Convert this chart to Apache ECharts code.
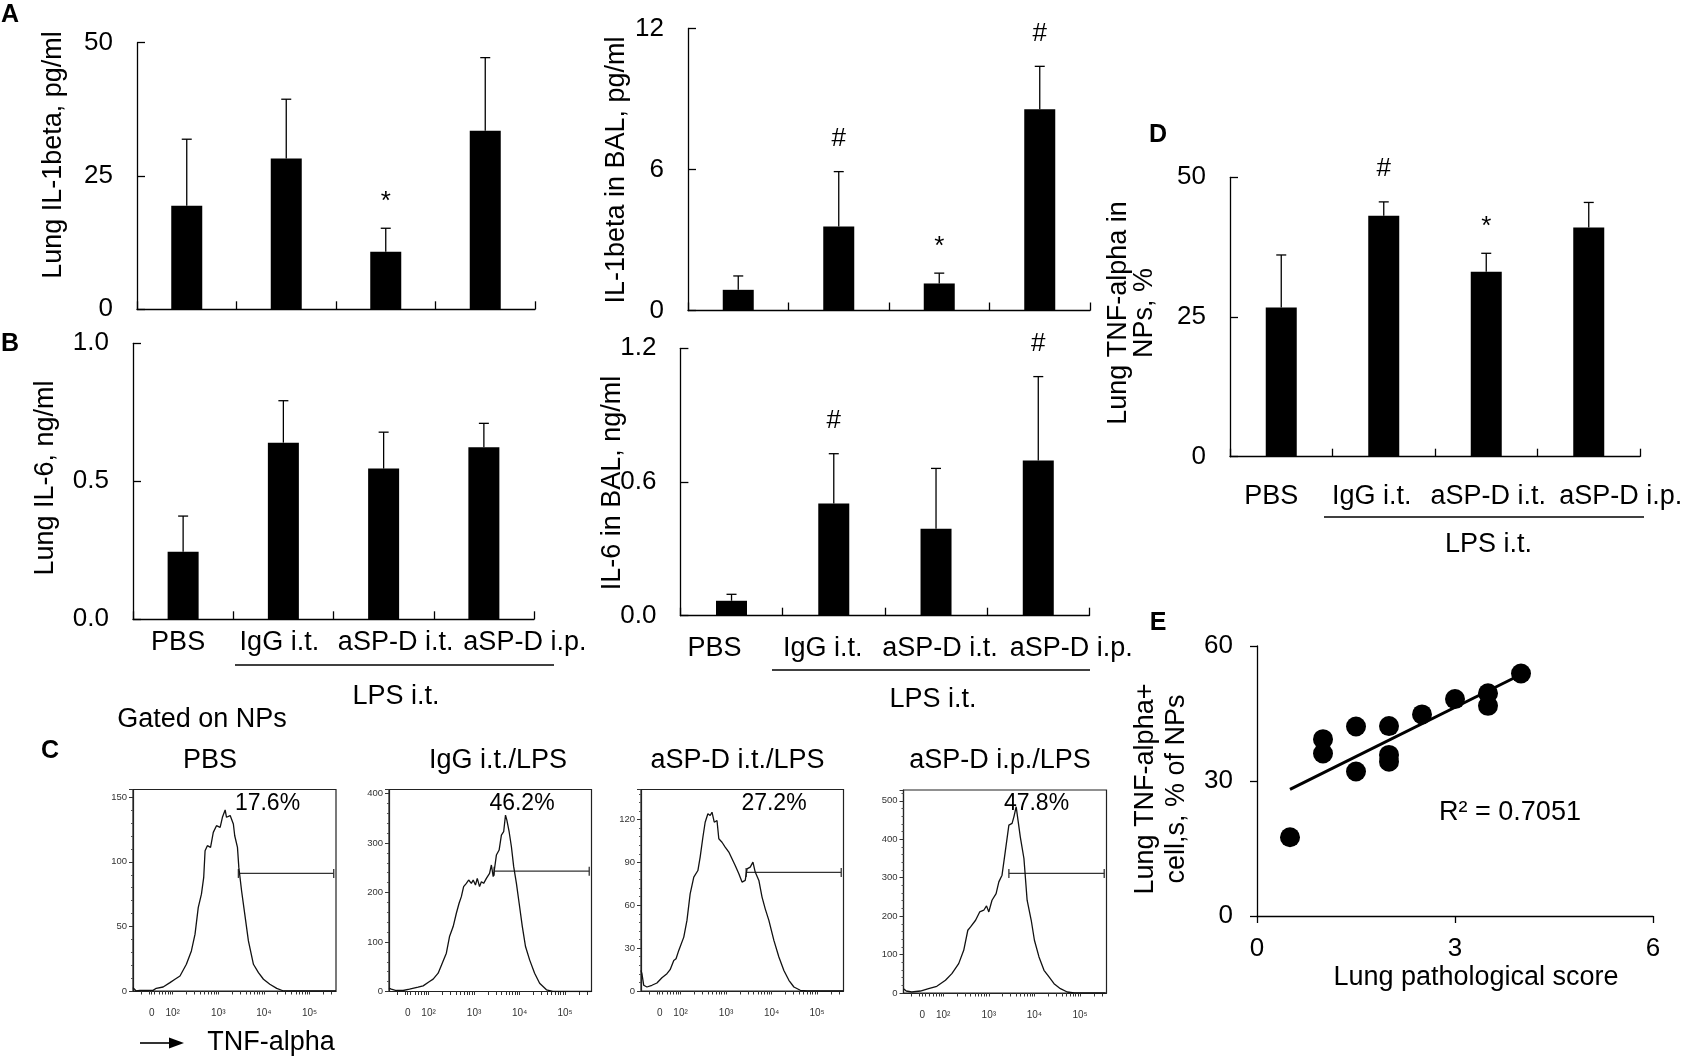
<!DOCTYPE html>
<html>
<head>
<meta charset="utf-8">
<script src="https://cdn.jsdelivr.net/npm/echarts@6/dist/echarts.min.js"></script>
<style>
  html, body { margin: 0; padding: 0; background: #fff; }
  #fig { width: 1686px; height: 1060px; }
</style>
</head>
<body>
<div id="fig"></div>
<script>
// --- data ---
var groups = ['PBS', 'IgG i.t.', 'aSP-D i.t.', 'aSP-D i.p.'];

var lungIL1b = [19.4, 28.3, 10.8, 33.5];
var lungIL1bSd = [12.5, 11.1, 4.4, 13.7];
var lungIL1bSig = ['', '', '*', ''];

var balIL1b = [0.88, 3.57, 1.15, 8.56];
var balIL1bSd = [0.59, 2.34, 0.44, 1.83];
var balIL1bSig = ['', '#', '*', '#'];

var lungIL6 = [0.245, 0.64, 0.546, 0.623];
var lungIL6Sd = [0.129, 0.152, 0.132, 0.087];
var lungIL6Sig = ['', '', '', ''];

var balIL6 = [0.067, 0.504, 0.39, 0.696];
var balIL6Sd = [0.029, 0.223, 0.271, 0.377];
var balIL6Sig = ['', '#', '', '#'];

var tnfNP = [26.7, 43.1, 33.1, 41.0];
var tnfNPSd = [9.4, 2.5, 3.3, 4.5];
var tnfNPSig = ['', '#', '*', ''];

var pathScore = [0.5, 1, 1, 1.5, 1.5, 2, 2, 2, 2.5, 3, 3.5, 3.5, 4];
var tnfPlusNP = [17.5, 39.3, 36.1, 42.1, 32.1, 42.2, 35.8, 34.3, 44.8, 48.2, 49.5, 46.7, 53.9];
var r2Label = 'R\u00b2 = 0.7051';

// flow histograms: [x in decades, count]
var histTitles = ['PBS', 'IgG i.t./LPS', 'aSP-D i.t./LPS', 'aSP-D i.p./LPS'];
var histPct = ['17.6%', '46.2%', '27.2%', '47.8%'];
var histYMax = [156, 408, 141, 528];
var histYStep = [50, 100, 30, 100];
var gateLevel = [91, 243, 83, 311];
var gateRange = [3.44, 5.53];
var decadeTicks = [1.54, 2, 3, 4, 5];
var decadeLabels = ['0', '10\u00b2', '10\u00b3', '10\u2074', '10\u2075'];

var histPbs = [[1.13,2.6],[1.20,0],[1.28,0.5],[1.57,0.5],[1.64,2.1],[1.79,3.1],[1.94,6.5],[2.05,9.1],[2.16,11.6],
  [2.30,20.7],[2.41,31],[2.49,44],[2.56,64.6],[2.63,75],[2.68,87.9],[2.71,108.6],[2.76,112.5],[2.79,113.8],
  [2.83,111.2],[2.89,122.8],[2.96,128],[3.04,126.7],[3.09,134.5],[3.15,140.2],[3.18,134.5],[3.26,135.8],
  [3.33,129.3],[3.36,120.2],[3.42,111.2],[3.45,95.7],[3.51,77.6],[3.58,59.5],[3.66,38.8],[3.77,20.7],
  [3.88,14.2],[3.99,9.1],[4.13,5.2],[4.28,2],[4.43,0],[5.58,0]];
var histIgG = [[1.13,6.7],[1.18,4.7],[1.29,2],[1.44,2],[1.58,4.7],[1.77,8.7],[1.88,11.4],[2.02,20.2],[2.10,24.9],
  [2.21,37],[2.30,57.1],[2.39,77.3],[2.46,110.9],[2.54,131.1],[2.61,158],[2.67,178.2],[2.72,191.6],[2.77,211.8],
  [2.83,218.5],[2.88,225.2],[2.94,218.5],[2.98,225.2],[3.03,215.1],[3.07,228.6],[3.12,211.8],[3.16,221.8],
  [3.21,218.5],[3.27,228.6],[3.34,238.7],[3.38,255.5],[3.42,231.9],[3.44,242],[3.49,275.6],[3.55,285.7],
  [3.60,316],[3.65,322.7],[3.69,356.3],[3.72,346.2],[3.77,322.7],[3.82,292.4],[3.87,252.1],[3.93,218.5],
  [3.99,178.2],[4.06,131.1],[4.13,90.8],[4.22,63.9],[4.33,37],[4.44,16.8],[4.59,3.4],[4.73,0],[5.58,0]];
var histAspdIt = [[1.13,14.4],[1.15,12.1],[1.19,4],[1.26,2.8],[1.37,4],[1.48,5.6],[1.59,9.3],[1.70,12.1],[1.77,14.9],
  [1.85,21.4],[1.90,22.6],[1.96,28.4],[2.07,37.7],[2.14,49.4],[2.21,68],[2.29,79.7],[2.38,84.3],[2.43,93.7],
  [2.49,107.6],[2.54,118.1],[2.60,124],[2.65,122.8],[2.69,125.1],[2.74,118.1],[2.80,119.3],[2.84,106.5],
  [2.91,104.1],[2.98,100.7],[3.06,97.2],[3.13,92.5],[3.20,87.8],[3.28,82],[3.35,76.2],[3.42,77.4],[3.46,85.5],
  [3.53,86.7],[3.59,90.2],[3.64,83.2],[3.72,77.4],[3.79,65.7],[3.86,57.5],[3.94,49.4],[4.05,35.4],[4.16,23.8],
  [4.27,14.4],[4.38,7.5],[4.49,2.8],[4.63,0.5],[4.78,0],[5.58,0]];
var histAspdIp = [[1.13,11.3],[1.19,5.2],[1.31,2.6],[1.50,5.2],[1.68,11.3],[1.86,17.4],[2.05,33],[2.19,50.3],
  [2.34,76.4],[2.45,111.1],[2.54,163.2],[2.60,171.9],[2.71,189.2],[2.80,210.9],[2.89,215.3],[2.95,226.6],
  [3.00,210.9],[3.07,241.3],[3.16,258.7],[3.22,289],[3.29,306.4],[3.36,367.2],[3.44,436.6],[3.51,441],
  [3.55,458.3],[3.60,484.4],[3.64,449.7],[3.69,406.3],[3.77,349.8],[3.84,241.3],[3.93,189.2],[4.00,137.2],
  [4.10,93.8],[4.21,59],[4.32,41.7],[4.43,24.3],[4.57,11.3],[4.72,2.6],[4.87,0],[5.56,0]];
var histSets = [histPbs, histIgG, histAspdIt, histAspdIp];

(function() {
  var FONT = "'Liberation Sans', Arial, Helvetica, sans-serif";
  var INK = '#000';
  var chart = echarts.init(document.getElementById('fig'), null, { renderer: 'canvas' });

  var grids = [], xAxes = [], yAxes = [], series = [], elements = [];

  function txt(s, x, y, size, opt) {
    opt = opt || {};
    return {
      type: 'text', x: x, y: y, rotation: opt.rot || 0, silent: true,
      style: {
        text: s, fill: opt.color || INK, fontSize: size, fontFamily: FONT,
        fontWeight: opt.bold ? 'bold' : 'normal', align: 'center', verticalAlign: 'middle',
        lineHeight: opt.lh || size
      }
    };
  }
  function hline(x1, x2, y) {
    return { type: 'line', silent: true, shape: { x1: x1, y1: y, x2: x2, y2: y }, style: { stroke: INK, lineWidth: 1.3 } };
  }

  // --- bar panels (A, B, D) ---
  var barPanels = [
    { mean: lungIL1b, sd: lungIL1bSd, sig: lungIL1bSig, max: 50, step: 25, dec: 0,
      box: { left: 137, top: 42.7, width: 398, height: 266.6 } },
    { mean: balIL1b, sd: balIL1bSd, sig: balIL1bSig, max: 12, step: 6, dec: 0,
      box: { left: 688, top: 28.5, width: 402, height: 282 } },
    { mean: lungIL6, sd: lungIL6Sd, sig: lungIL6Sig, max: 1.0, step: 0.5, dec: 1,
      box: { left: 133, top: 343.3, width: 401, height: 276 }, dx: [-5, -4, 12, 41], margin: 10 },
    { mean: balIL6, sd: balIL6Sd, sig: balIL6Sig, max: 1.2, step: 0.6, dec: 1,
      box: { left: 680.4, top: 348.3, width: 409, height: 267.4 }, dx: [-17, -11, 4, 33], margin: 19 },
    { mean: tnfNP, sd: tnfNPSd, sig: tnfNPSig, max: 50, step: 25, dec: 0,
      box: { left: 1230, top: 177.3, width: 410, height: 279.4 }, dx: [-10, -12, 2, 32], margin: 26 }
  ];

  function errRenderer(sig) {
    return function(params, api) {
      var k = api.value(0), m = api.value(1), s = api.value(2);
      var base = api.coord([k, m]);
      var tip = api.coord([k, m + s]);
      var kids = [
        { type: 'line', shape: { x1: base[0], y1: base[1], x2: tip[0], y2: tip[1] }, style: { stroke: INK, lineWidth: 1.3 } },
        { type: 'line', shape: { x1: tip[0] - 5, y1: tip[1], x2: tip[0] + 5, y2: tip[1] }, style: { stroke: INK, lineWidth: 1.3 } }
      ];
      var mark = sig[params.dataIndex];
      if (mark) {
        kids.push({
          type: 'text', x: tip[0], y: tip[1] - (mark === '*' ? 26 : 33),
          style: { text: mark, fill: INK, fontSize: 26, fontFamily: FONT, align: 'center', verticalAlign: 'middle' }
        });
      }
      return { type: 'group', children: kids };
    };
  }

  barPanels.forEach(function(p) {
    var gi = grids.length;
    grids.push(p.box);
    var labelOpt = { show: false };
    if (p.dx) {
      var rich = {};
      p.dx.forEach(function(d, k) {
        rich['c' + k] = { fontSize: 27, fontFamily: FONT, color: INK,
          padding: d >= 0 ? [0, 0, 0, 2 * d] : [0, -2 * d, 0, 0] };
      });
      labelOpt = {
        show: true, interval: 0, margin: p.margin, rich: rich,
        formatter: function(v, k) { return '{c' + k + '|' + v + '}'; }
      };
    }
    xAxes.push({
      type: 'category', gridIndex: gi, data: groups,
      axisLine: { lineStyle: { color: INK, width: 1.3 } },
      axisTick: { show: true, inside: true, length: 8, lineStyle: { color: INK, width: 1.3 } },
      axisLabel: labelOpt,
      splitLine: { show: false }
    });
    yAxes.push({
      type: 'value', gridIndex: gi, min: 0, max: p.max, interval: p.step,
      axisLine: { show: true, lineStyle: { color: INK, width: 1.3 } },
      axisTick: { show: true, inside: true, length: 8, lineStyle: { color: INK, width: 1.3 } },
      axisLabel: { fontSize: 26, fontFamily: FONT, color: INK, margin: 24,
        formatter: function(v) { return v.toFixed(p.dec); } },
      splitLine: { show: false }
    });
    series.push({
      type: 'bar', xAxisIndex: gi, yAxisIndex: gi, data: p.mean, barWidth: 31,
      itemStyle: { color: INK }, silent: true, z: 2
    });
    series.push({
      type: 'custom', xAxisIndex: gi, yAxisIndex: gi, silent: true, z: 3,
      data: p.mean.map(function(m, k) { return [k, m, p.sd[k]]; }),
      renderItem: errRenderer(p.sig)
    });
  });

  // --- E: scatter with linear fit ---
  var ge = grids.length;
  grids.push({ left: 1257, top: 646, width: 396, height: 270 });
  xAxes.push({
    type: 'value', gridIndex: ge, min: 0, max: 6, interval: 3,
    axisLine: { lineStyle: { color: INK, width: 1.3 } },
    axisTick: { show: true, length: 7, lineStyle: { color: INK, width: 1.3 } },
    axisLabel: { fontSize: 26, fontFamily: FONT, color: INK, margin: 20 },
    splitLine: { show: false }
  });
  yAxes.push({
    type: 'value', gridIndex: ge, min: 0, max: 60, interval: 30,
    axisLine: { show: true, lineStyle: { color: INK, width: 1.3 } },
    axisTick: { show: true, length: 7, lineStyle: { color: INK, width: 1.3 } },
    axisLabel: { fontSize: 26, fontFamily: FONT, color: INK, margin: 24 },
    splitLine: { show: false }
  });
  var pts = pathScore.map(function(x, i) { return [x, tnfPlusNP[i]]; });
  var n = pts.length, mx = 0, my = 0, sxy = 0, sxx = 0;
  pts.forEach(function(p) { mx += p[0] / n; my += p[1] / n; });
  pts.forEach(function(p) { sxy += (p[0] - mx) * (p[1] - my); sxx += (p[0] - mx) * (p[0] - mx); });
  var slope = sxy / sxx, icpt = my - slope * mx;
  var xLo = Math.min.apply(null, pathScore), xHi = Math.max.apply(null, pathScore);
  series.push({
    type: 'line', xAxisIndex: ge, yAxisIndex: ge, silent: true, symbol: 'none', z: 2,
    data: [[xLo, icpt + slope * xLo], [xHi, icpt + slope * xHi]],
    lineStyle: { color: INK, width: 3 }
  });
  series.push({
    type: 'scatter', xAxisIndex: ge, yAxisIndex: ge, silent: true, z: 3,
    data: pts, symbol: 'circle', symbolSize: 20, itemStyle: { color: INK, opacity: 1 }
  });

  // --- C: flow histograms ---
  var minorTicks = [];
  [1, 2, 3, 4, 5].forEach(function(dec) {
    for (var m = 2; m <= 9; m++) {
      var v = dec + Math.log10(m);
      if (v > 1.15 && v < 5.56) minorTicks.push(v);
    }
  });
  var histTickValues = decadeTicks.concat(minorTicks);
  var histBoxes = [
    { left: 133, top: 789.5, width: 203, height: 201.5 },
    { left: 389, top: 789.5, width: 202.5, height: 202 },
    { left: 641, top: 789.5, width: 202.5, height: 201.5 },
    { left: 903.5, top: 790, width: 203, height: 203 }
  ];
  histSets.forEach(function(set, h) {
    var gi = grids.length;
    var box = histBoxes[h];
    grids.push({ left: box.left, top: box.top, width: box.width, height: box.height,
      show: true, borderColor: '#222', borderWidth: 1.2, backgroundColor: 'transparent' });
    var xi = xAxes.length;
    xAxes.push({
      type: 'value', gridIndex: gi, min: 1.13, max: 5.58,
      axisLine: { lineStyle: { color: '#222', width: 1.2 } },
      axisTick: { show: true, length: 3.5, customValues: histTickValues, lineStyle: { color: '#333' } },
      axisLabel: {
        fontSize: 10, fontFamily: FONT, color: '#333', margin: 17, customValues: decadeTicks,
        formatter: function(v) {
          var best = 0;
          decadeTicks.forEach(function(t, k) { if (Math.abs(t - v) < Math.abs(decadeTicks[best] - v)) best = k; });
          return decadeLabels[best];
        }
      },
      splitLine: { show: false }
    });
    var yi = yAxes.length;
    yAxes.push({
      type: 'value', gridIndex: gi, min: 0, max: histYMax[h], interval: histYStep[h],
      axisLine: { show: true, lineStyle: { color: '#222', width: 1.2 } },
      axisTick: { show: true, length: 4, lineStyle: { color: '#333' } },
      minorTick: { show: true, splitNumber: 5, length: 2, lineStyle: { color: '#555' } },
      axisLabel: { fontSize: 9.5, fontFamily: FONT, color: '#333', margin: 6, showMaxLabel: false },
      splitLine: { show: false }
    });
    series.push({
      type: 'line', xAxisIndex: xi, yAxisIndex: yi, silent: true, data: set,
      symbol: 'none', lineStyle: { color: '#111', width: 1.3 }, z: 3
    });
    series.push({
      type: 'line', xAxisIndex: xi, yAxisIndex: yi, silent: true,
      data: [[gateRange[0], gateLevel[h]], [gateRange[1], gateLevel[h]]],
      symbol: 'rect', symbolSize: [1.3, 9], itemStyle: { color: '#333' },
      lineStyle: { color: '#333', width: 1.3 }, z: 2
    });
  });

  // --- annotations: titles, axis names, panel letters ---
  var histTitleX = [210, 498, 737.5, 1000];
  var histPctX = [267.5, 522, 774, 1036.5];
  histTitles.forEach(function(t, h) {
    elements.push(txt(t, histTitleX[h], 761, 27));
    elements.push(txt(histPct[h], histPctX[h], 804, 23));
  });
  elements.push(txt('Gated on NPs', 202, 720, 27));
  elements.push({ type: 'line', silent: true, shape: { x1: 140, y1: 1043, x2: 172, y2: 1043 }, style: { stroke: INK, lineWidth: 1.6 } });
  elements.push({ type: 'polygon', silent: true, shape: { points: [[169, 1037.5], [184, 1043], [169, 1048.5]] }, style: { fill: INK } });
  elements.push(txt('TNF-alpha', 271, 1043, 27));

  var R = Math.PI / 2;
  elements.push(txt('Lung IL-1beta, pg/ml', 54, 155, 27, { rot: R }));
  elements.push(txt('IL-1beta in BAL, pg/ml', 617, 170, 27, { rot: R }));
  elements.push(txt('Lung IL-6, ng/ml', 46, 478, 27, { rot: R }));
  elements.push(txt('IL-6 in BAL, ng/ml', 613, 483, 27, { rot: R }));
  elements.push(txt('Lung TNF-alpha in\nNPs, %', 1132, 313, 27, { rot: R, lh: 26 }));
  elements.push(txt('Lung TNF-alpha+\ncell,s, % of NPs', 1161, 789, 27, { rot: R, lh: 31 }));
  elements.push(txt('Lung pathological score', 1476, 978, 27));
  elements.push(txt(r2Label, 1510, 813, 27));

  // LPS i.t. brackets under B and D
  elements.push(hline(235, 554, 665));
  elements.push(txt('LPS i.t.', 396, 697, 27));
  elements.push(hline(772, 1090, 670));
  elements.push(txt('LPS i.t.', 933, 700, 27));
  elements.push(hline(1324, 1644, 517));
  elements.push(txt('LPS i.t.', 1488.5, 545, 27));

  [['A', 10, 15], ['B', 10, 344], ['C', 50, 751], ['D', 1158, 135], ['E', 1158, 623]].forEach(function(l) {
    elements.push(txt(l[0], l[1], l[2], 25, { bold: true }));
  });

  chart.setOption({
    animation: false,
    backgroundColor: '#fff',
    textStyle: { fontFamily: FONT, color: INK },
    grid: grids,
    xAxis: xAxes,
    yAxis: yAxes,
    series: series,
    graphic: { elements: elements }
  });
  window.addEventListener('resize', function() { chart.resize(); });
})();
</script>
</body>
</html>
